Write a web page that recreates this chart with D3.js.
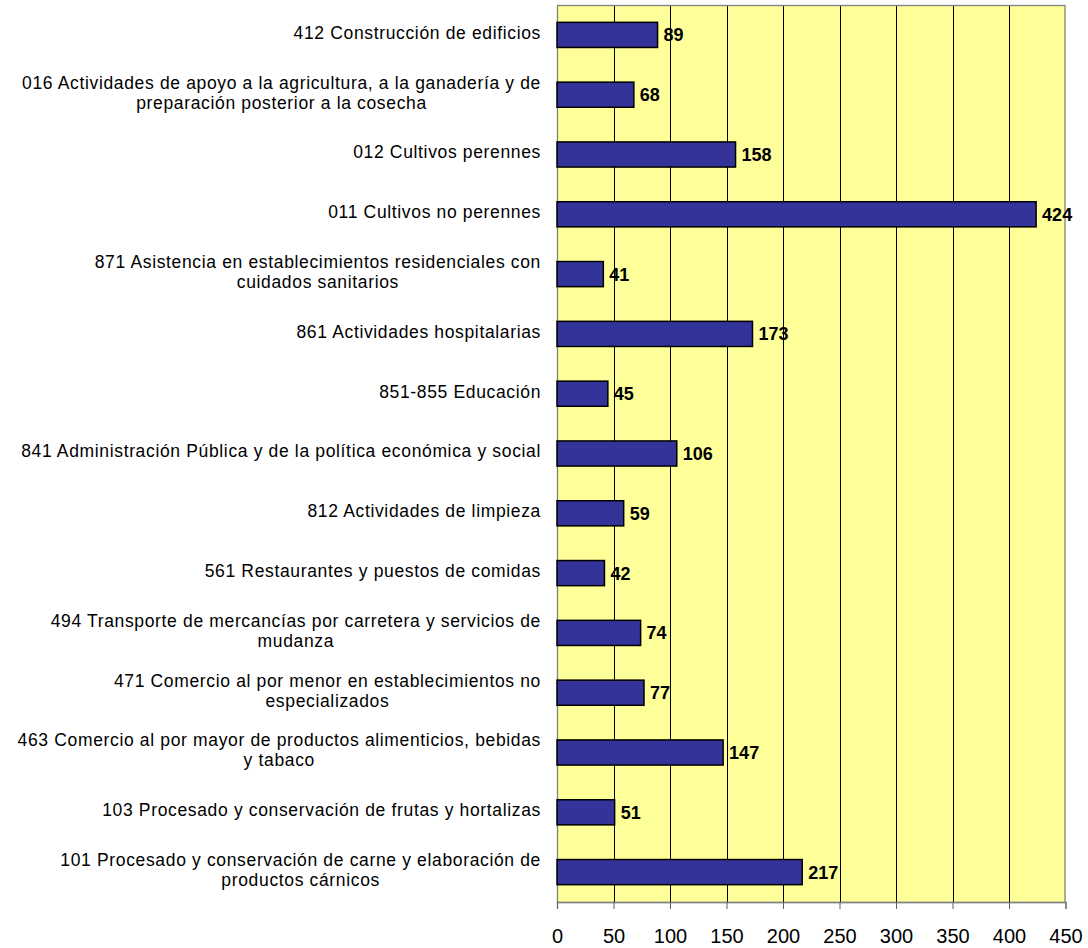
<!DOCTYPE html>
<html>
<head>
<meta charset="utf-8">
<script src="https://cdn.jsdelivr.net/npm/d3@7"></script>
<style>
  html, body { margin: 0; padding: 0; background: #ffffff; }
  svg { display: block; }
  text { font-family: "Liberation Sans", Arial, sans-serif; }
</style>
</head>
<body>
<svg id="chart" width="1088" height="948"></svg>
<script>
const categories = [
  "412 Construcción de edificios",
  "016 Actividades de apoyo a la agricultura, a la ganadería y de\npreparación posterior a la cosecha",
  "012 Cultivos perennes",
  "011 Cultivos no perennes",
  "871 Asistencia en establecimientos residenciales con\ncuidados sanitarios",
  "861 Actividades hospitalarias",
  "851-855 Educación",
  "841 Administración Pública y de la política económica y social",
  "812 Actividades de limpieza",
  "561 Restaurantes y puestos de comidas",
  "494 Transporte de mercancías por carretera y servicios de\nmudanza",
  "471 Comercio al por menor en establecimientos no\nespecializados",
  "463 Comercio al por mayor de productos alimenticios, bebidas\ny tabaco",
  "103 Procesado y conservación de frutas y hortalizas",
  "101 Procesado y conservación de carne y elaboración de\nproductos cárnicos"
];
const values = [89, 68, 158, 424, 41, 173, 45, 106, 59, 42, 74, 77, 147, 51, 217];
const xTicks = [0, 50, 100, 150, 200, 250, 300, 350, 400, 450];

(function () {
const svg = d3.select("#chart");
const pLeft = 557, pRight = 1065.5, pTop = 5, pBottom = 902;

const x = d3.scaleLinear().domain([0, 450]).range([pLeft, pRight]);
const y = d3.scaleBand().domain(categories).range([pTop, pBottom]).paddingInner(0.58).paddingOuter(0.29);

// plot background
svg.append("rect")
  .attr("x", pLeft).attr("y", pTop)
  .attr("width", pRight - pLeft).attr("height", pBottom - pTop)
  .attr("fill", "#FFFF99");

// gridlines
svg.append("g").selectAll("line")
  .data(xTicks.slice(1, -1))
  .join("line")
  .attr("x1", d => Math.round(x(d)) + 0.5).attr("x2", d => Math.round(x(d)) + 0.5)
  .attr("y1", pTop).attr("y2", pBottom)
  .attr("stroke", "#000").attr("stroke-width", 1);

// border
svg.append("rect")
  .attr("x", pLeft + 0.5).attr("y", pTop + 0.5)
  .attr("width", pRight - pLeft - 1).attr("height", pBottom - pTop)
  .attr("fill", "none").attr("stroke", "#808080").attr("stroke-width", 1.3);

// bars
svg.append("g").selectAll("rect")
  .data(values)
  .join("rect")
  .attr("x", x(0))
  .attr("y", (d, i) => y(categories[i]))
  .attr("width", d => x(d) - x(0))
  .attr("height", y.bandwidth())
  .attr("fill", "#333399")
  .attr("stroke", "#000")
  .attr("stroke-width", 1.5);

// value labels
svg.append("g").selectAll("text")
  .data(values)
  .join("text")
  .attr("x", d => x(d) + 6)
  .attr("y", (d, i) => y(categories[i]) + y.bandwidth() / 2)
  .attr("dy", "0.36em")
  .attr("font-size", 18)
  .attr("font-weight", "bold")
  .attr("fill", "#000")
  .text(d => d);

// x axis
const xAxis = d3.axisBottom(x).tickValues(xTicks).tickSize(7).tickPadding(20).tickFormat(d3.format("d"));
const gx = svg.append("g").attr("transform", `translate(0,${pBottom})`).call(xAxis);
gx.select(".domain").attr("stroke", "#808080").attr("stroke-width", 1.3);
gx.selectAll(".tick line").attr("stroke", "#606060");
gx.selectAll(".tick text")
  .attr("font-size", 20)
  .attr("font-family", "'Liberation Sans', Arial, sans-serif")
  .attr("fill", "#000");

// y axis category labels
const ly = svg.append("g");
categories.forEach((c, i) => {
  const lines = c.split("\n");
  const cy = y(c) + y.bandwidth() / 2 - 2.5;
  const lh = 20;
  const t = ly.append("text")
    .attr("text-anchor", "middle")
    .attr("font-size", 17.5)
    .attr("letter-spacing", "0.65px")
    .attr("fill", "#000");
  lines.forEach((ln, k) => {
    t.append("tspan")
      .attr("x", 0)
      .attr("y", cy + (k - (lines.length - 1) / 2) * lh)
      .attr("dy", "0.36em")
      .text(ln);
  });
  const w = t.node().getBBox().width;
  t.attr("transform", `translate(${541 - w / 2},0)`);
});
})();
</script>
</body>
</html>
